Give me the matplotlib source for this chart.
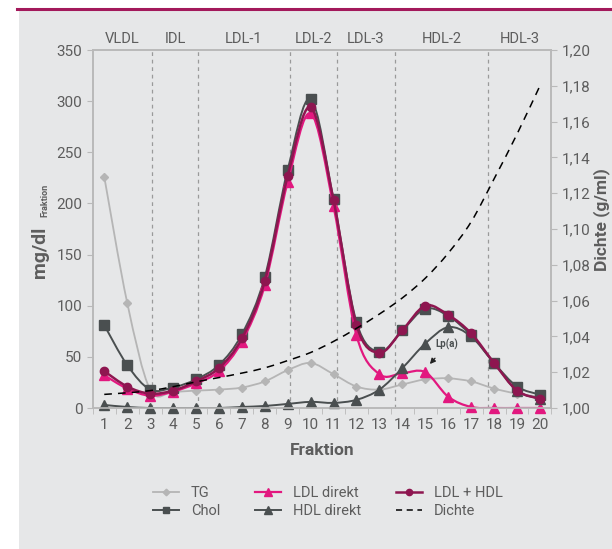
import numpy as np
import matplotlib
matplotlib.use("Agg")
from matplotlib import pyplot as plt
from matplotlib.path import Path
from matplotlib.patches import PathPatch
from matplotlib.lines import Line2D
from matplotlib.ticker import FuncFormatter

plt.rcParams['font.family'] = ['Roboto', 'DejaVu Sans']

# data
fraktion = list(range(1, 21))
tg = [226, 103, 18, 16, 17, 18, 20, 26, 37, 44, 33, 21, 18, 23, 28, 29, 26, 19, 14, 11]
chol = [81, 42, 18, 20, 28, 42, 72, 128, 233, 302, 204, 84, 55, 76, 97, 90, 71, 44, 21, 13]
ldl_direkt = [32, 19, 12, 16, 24, 36, 65, 120, 221, 288, 197, 71, 33, 34, 35, 11, 1, 0, 0, 0]
ldl_hdl = [36, 21, 14, 17, 26, 39, 68, 124, 227, 294, 203, 81, 54, 76, 100, 91, 73, 44, 17, 9]
hdl_direkt = [3, 1, 0, 0, 0, 0, 1, 2, 4, 6, 5, 8, 18, 39, 63, 79, 70, 44, 17, 9]
dichte = [1.0076, 1.0085, 1.0097, 1.0119, 1.0146, 1.017, 1.0195, 1.0224, 1.0265, 1.031,
          1.0372, 1.0445, 1.0525, 1.0615, 1.0725, 1.0865, 1.104, 1.128, 1.153, 1.18]

grenzen = [3.1, 5.07, 9.1, 11.14, 13.68, 17.75]
bereiche = ["VLDL", "IDL", "LDL-1", "LDL-2", "LDL-3", "HDL-2", "HDL-3"]

bg = "#e6e7e8"
txt = "#5d5d5d"
spine = "#b9b9b9"


def smooth_path(x, y):
    # bezier like excel's smoothed line
    x = np.asarray(x, float)
    y = np.asarray(y, float)
    pts = np.column_stack([x, y])
    verts = [pts[0]]
    codes = [Path.MOVETO]
    n = len(pts)
    for i in range(n - 1):
        p0 = pts[i - 1] if i > 0 else pts[i]
        p1 = pts[i]
        p2 = pts[i + 1]
        p3 = pts[i + 2] if i + 2 < n else pts[i + 1]
        c1 = p1 + (p2 - p0) / 6
        c2 = p2 - (p3 - p1) / 6
        verts += [c1, c2, p2]
        codes += [Path.CURVE4] * 3
    return Path(verts, codes)


fig = plt.figure(figsize=(6.12, 5.49), dpi=100)
fig.patch.set_facecolor("white")
fig.patches.append(plt.Rectangle((19 / 612, 0), 1, 1 - 10 / 549, transform=fig.transFigure,
                                 facecolor=bg, edgecolor="none", zorder=-10))
fig.add_artist(Line2D([17 / 612, 1], [1 - 8.5 / 549, 1 - 8.5 / 549], color="#a3195b", lw=2.2))

ax = fig.add_axes([92.8 / 612, 141 / 549, 458.6 / 612, 358 / 549])
ax.set_facecolor(bg)
ax2 = ax.twinx()

series = [
    (tg, "#b5b5b5", "D", 4.5, 1.3, "TG"),
    (chol, "#4a4f50", "s", 6.5, 1.4, "Chol"),
    (ldl_direkt, "#e2187f", "^", 7, 1.6, "LDL direkt"),
    (hdl_direkt, "#4a4f50", "^", 7, 1.4, "HDL direkt"),
    (ldl_hdl, "#8e1650", "o", 6, 1.8, "LDL + HDL"),
]
order = [0, 3, 1, 2, 4]
handles = {}
for k in order:
    vals, col, mk, ms, lw, lab = series[k]
    ax.add_patch(PathPatch(smooth_path(fraktion, vals), fill=False, edgecolor=col, lw=lw, zorder=2 + k))
    ax.plot(fraktion, vals, linestyle="none", marker=mk, ms=ms, color=col, zorder=2.5 + k, clip_on=False)
    handles[lab] = Line2D([], [], color=col, lw=lw, marker=mk, ms=ms * 0.75)

ax2.add_patch(PathPatch(smooth_path(fraktion, dichte), fill=False, edgecolor="black", lw=1.1,
                        linestyle=(0, (5, 4)), zorder=3))
handles["Dichte"] = Line2D([], [], color="black", lw=1.1, linestyle=(0, (4, 3)))

for g in grenzen:
    ax.axvline(g, color="#9a9a9a", lw=0.9, linestyle=(0, (3, 3)), zorder=1)

kanten = [0.5] + grenzen + [20.5]
for i, b in enumerate(bereiche):
    ax.text((kanten[i] + kanten[i + 1]) / 2, 354, b, ha="center", va="bottom", fontsize=10.5, color=txt)

ax.annotate("Lp(a)", xy=(15.2, 43), xytext=(15.95, 62), fontsize=7, fontweight="bold", color="#4a4f50",
            ha="center", va="center",
            arrowprops=dict(arrowstyle="-|>", color="#222222", lw=0.9, mutation_scale=8, shrinkA=5, shrinkB=0))

ax.set_xlim(0.5, 20.5)
ax.set_ylim(0, 350)
ax2.set_ylim(1.0, 1.2)
ax.set_xticks(fraktion)
ax.set_xticks(np.arange(0.5, 21, 1), minor=True)
ax.tick_params(axis="x", which="major", length=0, labelsize=11, labelcolor=txt, pad=7)
ax.tick_params(axis="x", which="minor", length=4, color=spine, direction="out")
ax.set_yticks(range(0, 351, 50))
ax.tick_params(axis="y", length=4, color=spine, labelsize=11, labelcolor=txt)
ax2.set_yticks(np.arange(1.0, 1.2001, 0.02))
ax2.yaxis.set_major_formatter(FuncFormatter(lambda v, p: f"{v:.2f}".replace(".", ",")))
ax2.tick_params(axis="y", length=4, color=spine, labelsize=11, labelcolor=txt)
for a in (ax, ax2):
    for s in a.spines.values():
        s.set_color(spine)
        s.set_linewidth(1.2)

ax.set_xlabel("Fraktion", fontsize=12.5, color=txt, fontweight="bold", labelpad=8)
fig.text(40 / 612, 1 - 252 / 549, "mg/dl", rotation=90, ha="center", va="center",
         fontsize=14, fontweight="bold", color=txt)
fig.text(45 / 612, 1 - 200 / 549, "Fraktion", rotation=90, ha="center", va="center",
         fontsize=6.5, fontweight="bold", color=txt)
fig.text(602 / 612, 1 - 220 / 549, "Dichte (g/ml)", rotation=90, ha="center", va="center",
         fontsize=12.5, fontweight="bold", color=txt)

labs = ["TG", "Chol", "LDL direkt", "HDL direkt", "LDL + HDL", "Dichte"]
fig.legend([handles[l] for l in labs], labs, ncol=3, frameon=False, loc="center",
           bbox_to_anchor=(0.536, 0.0856), fontsize=10.5, labelcolor=txt,
           handlelength=1.8, columnspacing=2.4, labelspacing=0.3, handletextpad=0.8)

fig.savefig("out.png", dpi=100, facecolor=fig.get_facecolor())
